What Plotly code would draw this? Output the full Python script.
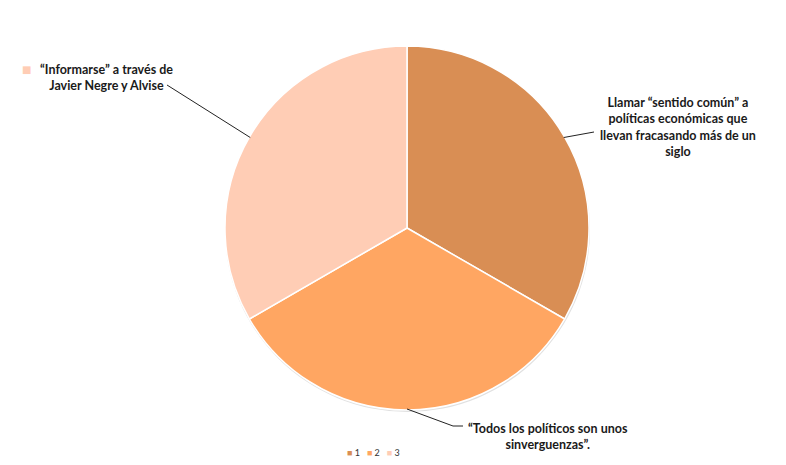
import math
import plotly.graph_objects as go

W, H = 786, 465
OFF = 8  # page body margin

# ---- data ----
categories = ["1", "2", "3"]
values = [1, 1, 1]
labels = [
    "Llamar “sentido común” a<br>políticas económicas que<br>llevan fracasando más de un<br>siglo",
    "“Todos los políticos son unos<br>sinverguenzas”.",
    "“Informarse” a través de<br>Javier Negre y Alvise",
]
colors = ["#D98E54", "#FFA662", "#FFCDB5"]

# ---- layout geometry (pixels in the screenshot) ----
cx, cy, R = 407, 228, 181


def px(x):
    return (x - OFF) / W


def py(y):
    return 1 - (y - OFF) / H


fig = go.Figure()
fig.add_trace(go.Pie(
    labels=categories, values=values, sort=False, direction="clockwise", rotation=0,
    marker=dict(colors=colors, line=dict(color="white", width=1.5)),
    textinfo="none", hoverinfo="label+value", showlegend=False,
    domain=dict(x=[px(cx - 200), px(cx + 200)], y=[py(cy + R + 1), py(cy - R - 1)]),
))

# soft shadow under the pie
fig.add_shape(type="circle", xref="paper", yref="paper", layer="below",
              x0=px(cx - R - 1), x1=px(cx + R + 2), y0=py(cy + R + 3), y1=py(cy - R + 1),
              fillcolor="rgba(0,0,0,0.12)", line=dict(width=0))

# anchor points at slice midpoints, computed from data
total = sum(values)
cum = 0
anchors = []
for v in values:
    mid = (cum + v / 2) / total * 2 * math.pi
    anchors.append((cx + R * math.sin(mid), cy - R * math.cos(mid)))
    cum += v

# leader line elbows/ends and text placement (pixels)
leader_paths = [
    [(594, 132)],
    [(453, 426), (463, 426)],
    [(167, 85)],
]
text_pos = [
    (678, 127),
    (548, 436),
    (106, 77),
]

font = dict(family="Lato, 'Open Sans', sans-serif", size=12.5, color="#1a1a1a")

for i in range(3):
    pts = [anchors[i]] + leader_paths[i]
    path = "M " + " L ".join(f"{px(x)},{py(y)}" for x, y in pts)
    fig.add_shape(type="path", xref="paper", yref="paper", path=path,
                  line=dict(color="#222222", width=1))
    tx, ty = text_pos[i]
    fig.add_annotation(x=px(tx), y=py(ty), xref="paper", yref="paper",
                       text=f"<b>{labels[i]}</b>", showarrow=False, align="center",
                       font=font, xanchor="center", yanchor="middle")

# legend key next to the third label
fig.add_annotation(x=px(26), y=py(69), xref="paper", yref="paper", text="■",
                   showarrow=False, font=dict(family="DejaVu Sans", size=10, color=colors[2]),
                   xanchor="center", yanchor="middle")

# legend built as text
leg = "   ".join(f"<span style='color:{c}'>■</span> {k}" for c, k in zip(colors, categories))
fig.add_annotation(x=px(373), y=py(452), xref="paper", yref="paper", text=leg,
                   showarrow=False, font=dict(family="Lato, sans-serif", size=9, color="#333"),
                   xanchor="center", yanchor="middle")

fig.update_layout(width=W, height=H, margin=dict(l=0, r=0, t=0, b=0),
                  paper_bgcolor="white", plot_bgcolor="white", showlegend=False)
fig.write_html("out.html")
